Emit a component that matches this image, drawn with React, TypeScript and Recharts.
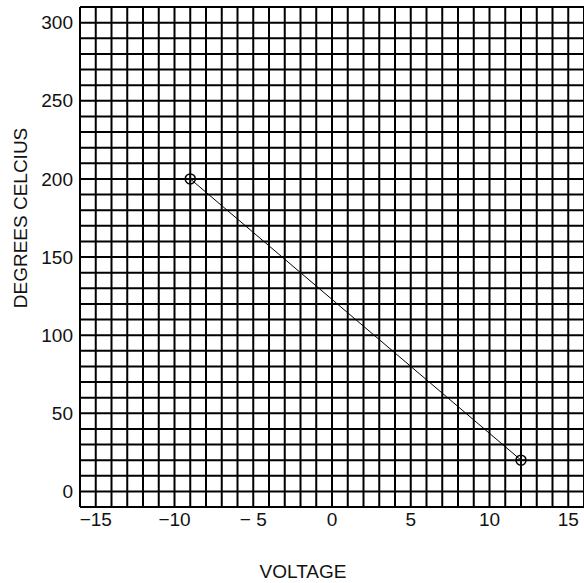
import React from 'react';
import { LineChart, Line, XAxis, YAxis, CartesianGrid } from 'recharts';

// Data
const voltage = [-9, 12];
const degrees = [200, 20];

// Grid ticks (one per grid line) and the labelled ticks
const xGridTicks = [-16, -15, -14, -13, -12, -11, -10, -9, -8, -7, -6, -5, -4, -3, -2, -1, 0, 1, 2, 3, 4, 5, 6, 7, 8, 9, 10, 11, 12, 13, 14, 15, 16];
const yGridTicks = [-10, 0, 10, 20, 30, 40, 50, 60, 70, 80, 90, 100, 110, 120, 130, 140, 150, 160, 170, 180, 190, 200, 210, 220, 230, 240, 250, 260, 270, 280, 290, 300, 310];
const xLabelTicks = [-15, -10, -5, 0, 5, 10, 15];
const yLabelTicks = [0, 50, 100, 150, 200, 250, 300];

const xTitle = 'VOLTAGE';
const yTitle = 'DEGREES CELCIUS';

const data = voltage.map((v, i) => ({ x: v, y: degrees[i] }));

const FONT = '"Liberation Sans", Arial, sans-serif';
const FS = 19;

const fmtX = (v: number) => {
  if (!xLabelTicks.includes(v)) return '';
  if (v < 0) return (Math.abs(v) < 10 ? '\u2212 ' : '\u2212') + Math.abs(v);
  return String(v);
};
const fmtY = (v: number) => (yLabelTicks.includes(v) ? String(v) : '');

const Marker = (props: any) => {
  const { cx, cy } = props;
  if (cx == null || cy == null) return null;
  return (
    <g>
      <circle cx={cx} cy={cy} r={5} fill="none" stroke="#000" strokeWidth={1.5} />
      <line x1={cx - 5} y1={cy} x2={cx + 5} y2={cy} stroke="#000" strokeWidth={1.2} />
      <line x1={cx} y1={cy - 5} x2={cx} y2={cy + 5} stroke="#000" strokeWidth={1.2} />
    </g>
  );
};

export default function App() {
  return (
    <div style={{ position: 'absolute', left: 0, top: 0, width: 584, height: 583, background: '#fff' }}>
      <LineChart width={584} height={583} data={data} margin={{ top: 7, right: 0, bottom: 0, left: 0 }}>
        <CartesianGrid stroke="#000" strokeWidth={2} />
        <XAxis
          type="number"
          dataKey="x"
          domain={[-16, 16]}
          ticks={xGridTicks}
          interval={0}
          tickFormatter={fmtX}
          height={76}
          axisLine={false}
          tickLine={false}
          tickSize={0}
          tickMargin={6}
          tick={{ fill: '#111', fontSize: FS, fontFamily: FONT }}
          label={{
            content: (p: any) => {
              const vb = p.viewBox || {};
              return (
                <text x={(vb.x || 0) + (vb.width || 0) / 2 - 29} y={578} textAnchor="middle" fill="#111" fontSize={FS} fontFamily={FONT}>
                  {xTitle}
                </text>
              );
            },
          }}
        />
        <YAxis
          type="number"
          dataKey="y"
          domain={[-10, 310]}
          ticks={yGridTicks}
          interval={0}
          tickFormatter={fmtY}
          width={80}
          axisLine={false}
          tickLine={false}
          tickSize={0}
          tickMargin={7}
          tick={{ fill: '#111', fontSize: FS, fontFamily: FONT }}
          label={{
            content: () => {
              const cx = 27;
              const cy = 218;
              return (
                <text x={cx} y={cy} transform={`rotate(-90, ${cx}, ${cy})`} textAnchor="middle" fill="#111" fontSize={FS} fontFamily={FONT}>
                  {yTitle}
                </text>
              );
            },
          }}
        />
        <Line
          type="linear"
          dataKey="y"
          stroke="#000"
          strokeWidth={1}
          dot={<Marker />}
          activeDot={false}
          isAnimationActive={false}
        />
      </LineChart>
    </div>
  );
}
